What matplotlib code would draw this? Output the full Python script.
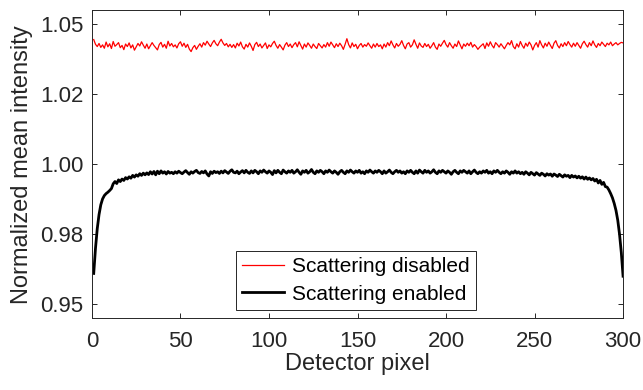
import matplotlib

matplotlib.use("Agg")
import matplotlib.pyplot as plt
import numpy as np

# detector pixel index
pixels = np.arange(1, 301)

# normalized mean intensity, scattering disabled (red)
disabled = [
    1.0445, 1.0428, 1.0420, 1.0431, 1.0417, 1.0426, 1.0414, 1.0436, 1.0419, 1.0430,
    1.0413, 1.0438, 1.0421, 1.0427, 1.0434, 1.0416, 1.0424, 1.0409, 1.0429, 1.0420,
    1.0433, 1.0415, 1.0426, 1.0407, 1.0419, 1.0431, 1.0422, 1.0437, 1.0425, 1.0414,
    1.0429, 1.0412, 1.0423, 1.0434, 1.0424, 1.0416, 1.0408, 1.0427, 1.0435, 1.0418,
    1.0428, 1.0414, 1.0439, 1.0422, 1.0431, 1.0419, 1.0426, 1.0415, 1.0430, 1.0437,
    1.0421, 1.0432, 1.0417, 1.0428, 1.0411, 1.0402, 1.0416, 1.0424, 1.0410, 1.0421,
    1.0430, 1.0418, 1.0434, 1.0425, 1.0439, 1.0429, 1.0420, 1.0433, 1.0442, 1.0430,
    1.0423, 1.0436, 1.0446, 1.0433, 1.0424, 1.0431, 1.0419, 1.0428, 1.0417, 1.0427,
    1.0415, 1.0432, 1.0422, 1.0436, 1.0419, 1.0411, 1.0428, 1.0418, 1.0433, 1.0421,
    1.0406, 1.0427, 1.0435, 1.0420, 1.0429, 1.0415, 1.0424, 1.0433, 1.0413, 1.0426,
    1.0419, 1.0431, 1.0439, 1.0424, 1.0414, 1.0427, 1.0418, 1.0408, 1.0425, 1.0434,
    1.0420, 1.0429, 1.0416, 1.0427, 1.0434, 1.0419, 1.0437, 1.0424, 1.0411, 1.0429,
    1.0418, 1.0433, 1.0424, 1.0414, 1.0429, 1.0420, 1.0413, 1.0431, 1.0423, 1.0415,
    1.0427, 1.0418, 1.0434, 1.0421, 1.0436, 1.0426, 1.0416, 1.0430, 1.0420, 1.0432,
    1.0423, 1.0410, 1.0428, 1.0448, 1.0427, 1.0415, 1.0433, 1.0420, 1.0428, 1.0412,
    1.0424, 1.0431, 1.0418, 1.0427, 1.0421, 1.0433, 1.0423, 1.0414, 1.0429, 1.0418,
    1.0431, 1.0420, 1.0426, 1.0412, 1.0429, 1.0418, 1.0434, 1.0423, 1.0440, 1.0426,
    1.0415, 1.0431, 1.0421, 1.0428, 1.0441, 1.0424, 1.0412, 1.0429, 1.0434, 1.0418,
    1.0426, 1.0444, 1.0428, 1.0414, 1.0433, 1.0422, 1.0417, 1.0431, 1.0420, 1.0428,
    1.0414, 1.0423, 1.0434, 1.0418, 1.0410, 1.0429, 1.0421, 1.0432, 1.0442, 1.0427,
    1.0418, 1.0434, 1.0423, 1.0414, 1.0429, 1.0420, 1.0440, 1.0426, 1.0412, 1.0429,
    1.0421, 1.0432, 1.0423, 1.0435, 1.0418, 1.0427, 1.0420, 1.0410, 1.0418, 1.0424,
    1.0430, 1.0413, 1.0433, 1.0421, 1.0437, 1.0424, 1.0415, 1.0434, 1.0427, 1.0418,
    1.0430, 1.0421, 1.0412, 1.0424, 1.0434, 1.0426, 1.0441, 1.0420, 1.0412, 1.0430,
    1.0418, 1.0438, 1.0424, 1.0414, 1.0432, 1.0421, 1.0436, 1.0426, 1.0408, 1.0424,
    1.0434, 1.0418, 1.0441, 1.0426, 1.0415, 1.0432, 1.0421, 1.0436, 1.0424, 1.0413,
    1.0432, 1.0441, 1.0424, 1.0415, 1.0430, 1.0420, 1.0434, 1.0423, 1.0438, 1.0427,
    1.0418, 1.0432, 1.0421, 1.0434, 1.0424, 1.0414, 1.0430, 1.0439, 1.0427, 1.0418,
    1.0434, 1.0423, 1.0440, 1.0426, 1.0417, 1.0431, 1.0423, 1.0436, 1.0428, 1.0420,
    1.0432, 1.0426, 1.0436, 1.0423, 1.0429, 1.0434, 1.0426, 1.0431, 1.0435, 1.0433,
]

# normalized mean intensity, scattering enabled (black)
enabled = [
    0.9610, 0.9700, 0.9770, 0.9820, 0.9855, 0.9876, 0.9888, 0.9895, 0.9900, 0.9906,
    0.9913, 0.9930, 0.9938, 0.9931, 0.9944, 0.9938, 0.9947, 0.9942, 0.9952, 0.9947,
    0.9955, 0.9950, 0.9960, 0.9954, 0.9962, 0.9957, 0.9966, 0.9960, 0.9968, 0.9962,
    0.9969, 0.9963, 0.9973, 0.9965, 0.9974, 0.9962, 0.9975, 0.9966, 0.9976, 0.9968,
    0.9973, 0.9965, 0.9974, 0.9968, 0.9971, 0.9966, 0.9973, 0.9968, 0.9975, 0.9970,
    0.9966, 0.9972, 0.9977, 0.9970, 0.9964, 0.9973, 0.9968, 0.9974, 0.9978, 0.9970,
    0.9967, 0.9974, 0.9969, 0.9976, 0.9965, 0.9958, 0.9973, 0.9967, 0.9975, 0.9970,
    0.9973, 0.9967, 0.9975, 0.9969, 0.9977, 0.9972, 0.9967, 0.9975, 0.9980, 0.9971,
    0.9969, 0.9975, 0.9966, 0.9972, 0.9977, 0.9969, 0.9978, 0.9971, 0.9967, 0.9976,
    0.9969, 0.9978, 0.9973, 0.9966, 0.9976, 0.9971, 0.9979, 0.9973, 0.9968, 0.9976,
    0.9971, 0.9963, 0.9977, 0.9969, 0.9978, 0.9971, 0.9966, 0.9979, 0.9973, 0.9968,
    0.9976, 0.9971, 0.9978, 0.9968, 0.9973, 0.9980, 0.9971, 0.9964, 0.9976, 0.9971,
    0.9978, 0.9968, 0.9973, 0.9981, 0.9971, 0.9966, 0.9976, 0.9971, 0.9978, 0.9973,
    0.9966, 0.9976, 0.9971, 0.9979, 0.9973, 0.9968, 0.9976, 0.9971, 0.9964, 0.9973,
    0.9978, 0.9971, 0.9966, 0.9976, 0.9971, 0.9979, 0.9973, 0.9968, 0.9976, 0.9971,
    0.9978, 0.9968, 0.9973, 0.9966, 0.9976, 0.9971, 0.9979, 0.9973, 0.9968, 0.9976,
    0.9971, 0.9978, 0.9973, 0.9966, 0.9976, 0.9968, 0.9973, 0.9979, 0.9971, 0.9966,
    0.9973, 0.9978, 0.9971, 0.9976, 0.9968, 0.9973, 0.9966, 0.9976, 0.9971, 0.9978,
    0.9971, 0.9966, 0.9976, 0.9968, 0.9979, 0.9973, 0.9968, 0.9978, 0.9971, 0.9976,
    0.9968, 0.9973, 0.9980, 0.9971, 0.9966, 0.9976, 0.9971, 0.9978, 0.9973, 0.9968,
    0.9976, 0.9971, 0.9964, 0.9973, 0.9978, 0.9971, 0.9966, 0.9976, 0.9971, 0.9978,
    0.9973, 0.9968, 0.9976, 0.9966, 0.9973, 0.9979, 0.9971, 0.9966, 0.9973, 0.9968,
    0.9976, 0.9971, 0.9978, 0.9968, 0.9973, 0.9966, 0.9976, 0.9971, 0.9978, 0.9971,
    0.9966, 0.9973, 0.9968, 0.9976, 0.9971, 0.9964, 0.9973, 0.9968, 0.9976, 0.9968,
    0.9973, 0.9966, 0.9971, 0.9964, 0.9973, 0.9968, 0.9962, 0.9971, 0.9966, 0.9961,
    0.9970, 0.9965, 0.9960, 0.9968, 0.9964, 0.9958, 0.9966, 0.9961, 0.9965, 0.9957,
    0.9965, 0.9961, 0.9956, 0.9964, 0.9959, 0.9954, 0.9962, 0.9957, 0.9960, 0.9952,
    0.9960, 0.9954, 0.9958, 0.9951, 0.9957, 0.9950, 0.9955, 0.9947, 0.9954, 0.9946,
    0.9951, 0.9944, 0.9949, 0.9940, 0.9946, 0.9933, 0.9942, 0.9928, 0.9935, 0.9920,
    0.9918, 0.9908, 0.9895, 0.9880, 0.9860, 0.9835, 0.9800, 0.9750, 0.9685, 0.9600,
]

x_ticks = [0, 50, 100, 150, 200, 250, 300]
y_ticks = [0.95, 0.975, 1.0, 1.025, 1.05]
y_tick_labels = ["0.95", "0.98", "1.00", "1.02", "1.05"]

AX_COLOR = "#262626"

plt.rcParams["font.family"] = ["Liberation Sans", "DejaVu Sans"]

fig = plt.figure(figsize=(6.43, 3.90), dpi=100)
ax = fig.add_axes([0.143, 0.184, 0.826, 0.790])

ax.plot(pixels, disabled, color="red", linewidth=0.9, label="Scattering disabled")
ax.plot(pixels, enabled, color="black", linewidth=2.0, label="Scattering enabled")

ax.set_xlim(0, 300)
ax.set_ylim(0.945, 1.055)
ax.set_xticks(x_ticks)
ax.set_yticks(y_ticks)
ax.set_yticklabels(y_tick_labels)

ax.tick_params(
    direction="in", length=3.5, width=0.7, colors=AX_COLOR,
    labelsize=16, top=True, right=True,
)
ax.tick_params(axis="y", pad=6)
ax.tick_params(axis="x", pad=9)
for spine in ax.spines.values():
    spine.set_color(AX_COLOR)
    spine.set_linewidth(0.7)

ax.set_xlabel("Detector pixel", fontsize=17, color=AX_COLOR, labelpad=1)
ax.set_ylabel("Normalized mean intensity", fontsize=17, color=AX_COLOR, labelpad=5)

leg = ax.legend(
    loc="lower center", bbox_to_anchor=(0.497, 0.02), fontsize=15,
    fancybox=False, framealpha=1, edgecolor=AX_COLOR,
    handlelength=2.0, handletextpad=0.4, borderpad=0.3, labelspacing=0.4,
    borderaxespad=0.1,
)
leg.get_frame().set_linewidth(0.7)

fig.savefig("out.png", dpi=100)
